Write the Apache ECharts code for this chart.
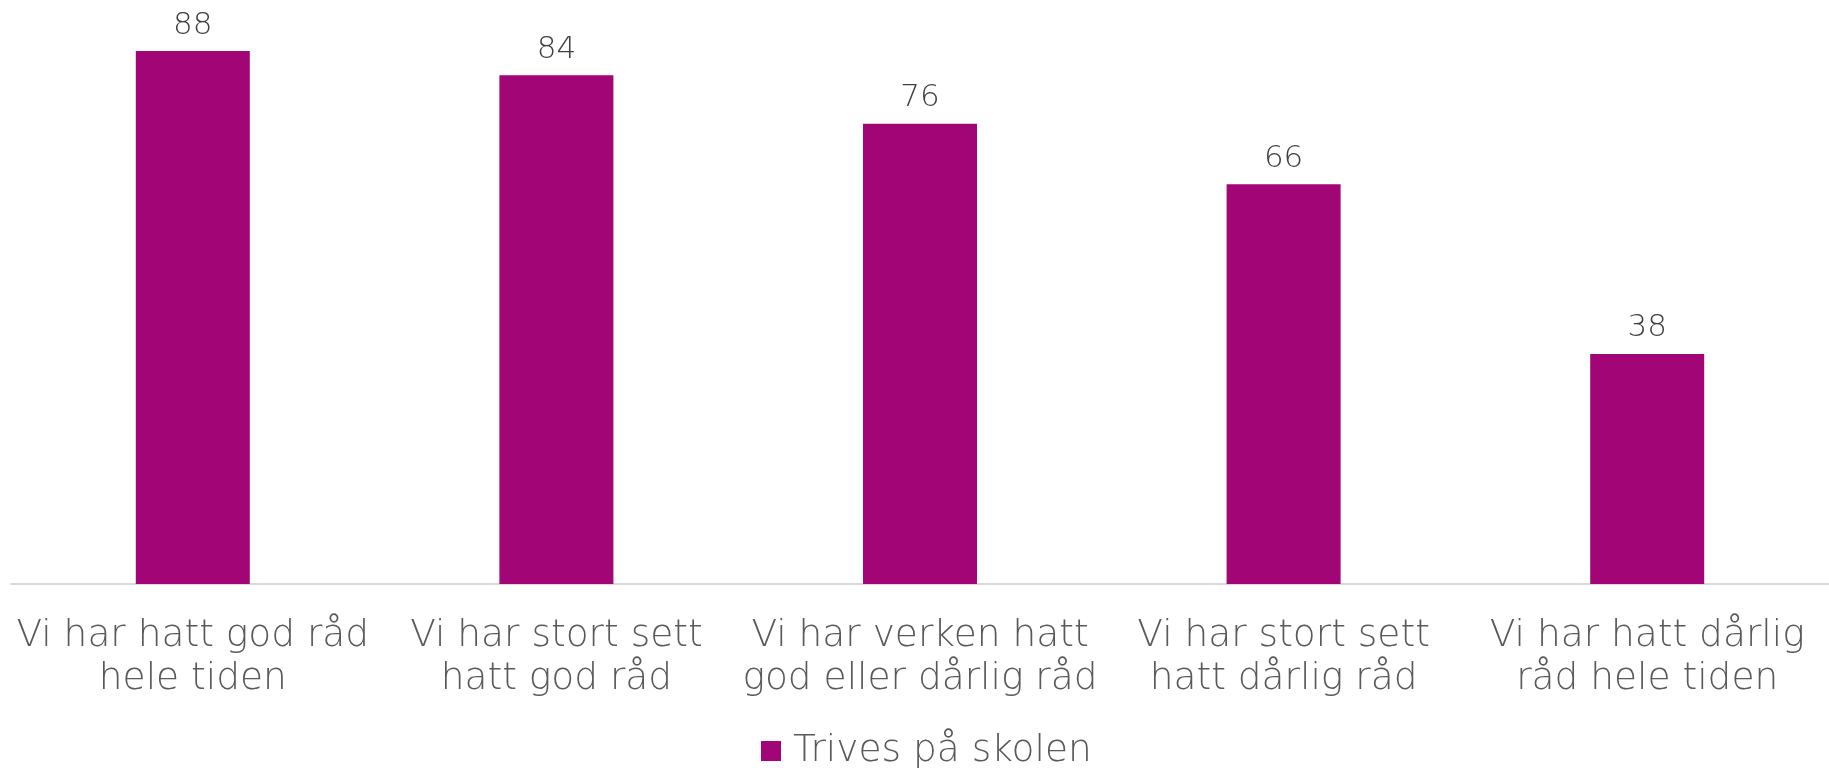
<!DOCTYPE html>
<html lang="no">
<head>
    <meta charset="UTF-8">
    <title>Trives på skolen</title>
    <script src="https://cdn.jsdelivr.net/npm/echarts@6/dist/echarts.min.js"></script>
    <style>
        html, body { margin: 0; padding: 0; background: #fff; }
        #chart { width: 1829px; height: 771px; }
    </style>
</head>
<body>
<div id="chart"></div>
<script>
// data
var categories = [
    'Vi har hatt god råd\nhele tiden',
    'Vi har stort sett\nhatt god råd',
    'Vi har verken hatt\ngod eller dårlig råd',
    'Vi har stort sett\nhatt dårlig råd',
    'Vi har hatt dårlig\nråd hele tiden'
];
var seriesName = 'Trives på skolen';
var values = [88, 84, 76, 66, 38];

var fontFam = '"DejaVu Sans", sans-serif';
var myChart = echarts.init(document.getElementById('chart'));

var option = {
    animation: false,
    textStyle: { fontFamily: fontFam },
    grid: { left: 11, right: -5, top: 39, height: 545, containLabel: false },
    legend: {
        data: [seriesName],
        left: 756,
        top: 727,
        itemWidth: 20,
        itemHeight: 20,
        icon: 'rect',
        textStyle: { fontSize: 37.5, color: '#595959', fontWeight: 200, fontFamily: fontFam, padding: [0, 0, 0, 7] }
    },
    xAxis: {
        type: 'category',
        data: categories,
        axisLine: { lineStyle: { color: '#d9d9d9', width: 2 } },
        axisTick: { show: false },
        axisLabel: {
            interval: 0,
            margin: 31,
            fontSize: 37.5,
            lineHeight: 43,
            color: '#595959',
            fontWeight: 200,
            fontFamily: fontFam
        }
    },
    yAxis: {
        type: 'value',
        min: 0,
        max: 90,
        show: false,
        splitLine: { show: false }
    },
    series: [{
        name: seriesName,
        type: 'bar',
        data: values,
        barWidth: 114,
        itemStyle: { color: '#a10576' },
        label: {
            show: true,
            position: 'top',
            distance: 10,
            fontSize: 31,
            color: '#404040',
            fontWeight: 200,
            fontFamily: fontFam
        }
    }]
};

myChart.setOption(option);
</script>
</body>
</html>
